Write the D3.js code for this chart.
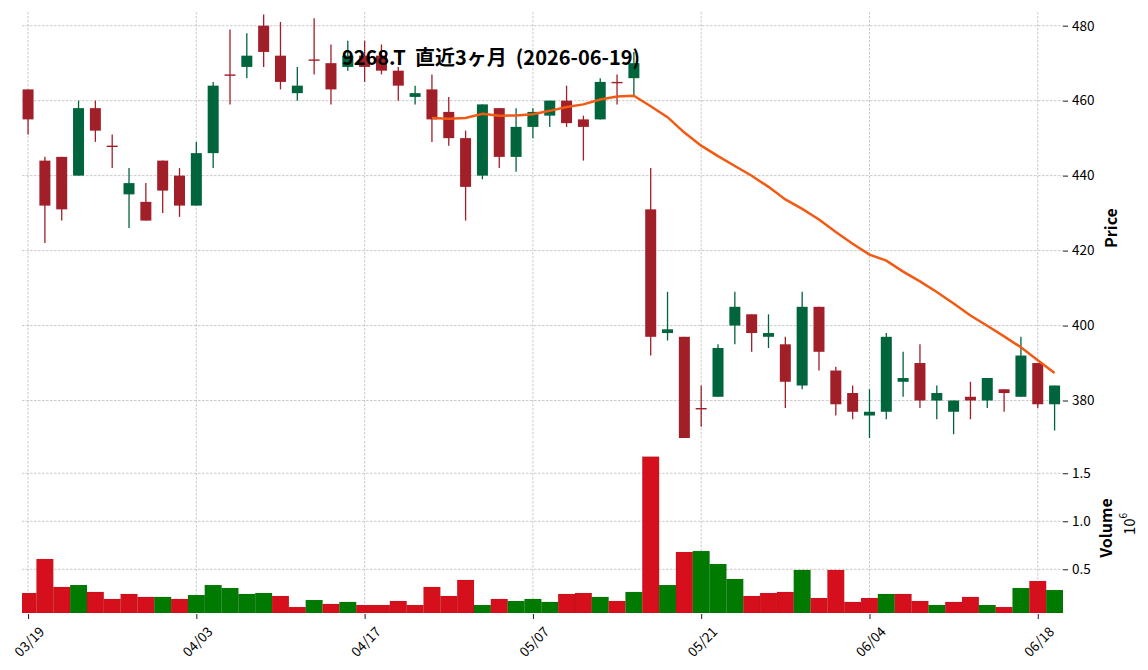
<!DOCTYPE html>
<html>
<head>
<meta charset="utf-8">
<script src="https://cdn.jsdelivr.net/npm/d3@7"></script>
<style>
  body { margin: 0; background: #fff; }
  svg { display: block; font-family: "Noto Sans CJK JP", "Noto Sans", sans-serif; }
  .grid line { stroke: #bdbdbd; stroke-width: 0.8; stroke-dasharray: 2.5,1.5; }
  .tick line { stroke: #000; stroke-width: 0.9; }
</style>
</head>
<body>
<div id="chart"></div>
<script>
// 9268.T daily candles, last 3 months
var dates = ["03/19","03/23","03/24","03/25","03/26","03/27","03/30","03/31","04/01","04/02",
             "04/03","04/06","04/07","04/08","04/09","04/10","04/13","04/14","04/15","04/16",
             "04/17","04/20","04/21","04/22","04/23","04/24","04/27","04/28","04/30","05/01",
             "05/07","05/08","05/11","05/12","05/13","05/14","05/15","05/18","05/19","05/20",
             "05/21","05/22","05/25","05/26","05/27","05/28","05/29","06/01","06/02","06/03",
             "06/04","06/05","06/08","06/09","06/10","06/11","06/12","06/15","06/16","06/17",
             "06/18","06/19"];
var opens  = [463,444,445,440,458,448,435,433,444,440, 432,446,467,469,480,472,462,471,470,469,
              472,472,468,461,463,457,450,440,458,445, 453,456,460,455,455,465,466,431,398,397,
              378,381,400,403,397,395,384,405,388,382, 376,377,385,390,380,377,381,380,383,381,
              390,379];
var highs  = [463,445,445,460,460,451,442,438,444,442, 449,465,479,478,483,481,469,482,475,476,
              476,475,469,464,467,461,452,459,458,458, 458,460,464,456,466,467,473,442,409,397,
              384,395,409,403,403,397,409,405,389,384, 383,398,393,395,384,380,385,386,383,397,
              390,384];
var lows   = [451,422,428,440,449,442,426,428,430,429, 432,442,459,466,469,463,460,467,459,468,
              465,467,460,459,449,448,428,439,442,441, 450,453,453,444,455,459,461,392,396,370,
              373,381,395,393,394,378,383,388,376,375, 370,375,381,378,375,371,375,378,377,381,
              378,372];
var closes = [455,432,431,458,452,448,438,428,436,432, 446,464,467,472,473,465,464,471,463,472,
              469,468,464,462,455,450,437,459,445,453, 457,460,454,453,465,465,470,397,399,370,
              378,394,405,398,398,385,405,393,379,377, 377,397,386,380,382,380,380,386,382,392,
              379,384];
var volumes = [253000,607000,316000,336000,264000,191000,243000,212000,212000,191000,
               232000,336000,305000,243000,253000,222000,107000,180000,139000,160000,
               128000,128000,170000,128000,316000,222000,389000,128000,191000,170000,
               191000,160000,243000,253000,212000,170000,264000,1673000,336000,680000,
               690000,555000,399000,222000,253000,264000,493000,201000,493000,160000,
               201000,243000,243000,170000,128000,160000,212000,128000,107000,305000,
               378000,284000];
var maWindow = 25;
var priceTicks = [380,400,420,440,460,480];
var volTicks = [500000,1000000,1500000];
var dateTickIdx = [0,10,20,30,40,50,60];

var width = 1148, height = 670;
var left = 22, right = 1063;
var upColor = "#00643c", downColor = "#a01f29";
var volUp = "#007a00", volDown = "#d50f1c";
var font = "'Noto Sans CJK JP', 'Noto Sans', sans-serif";

var svg = d3.select("#chart").append("svg")
  .attr("width", width)
  .attr("height", height);

var n = dates.length;
var x = d3.scaleLinear().domain([-0.36, n - 0.5]).range([left, right]);
var y = d3.scaleLinear().domain([370, 483.65]).range([438, 12]);
var yv = d3.scaleLinear().domain([45000, 1836000]).range([613, 441]);
var step = x(1) - x(0);

svg.append("defs").append("clipPath").attr("id", "volclip")
  .append("rect").attr("x", left).attr("y", 441).attr("width", right - left).attr("height", 172);

// grid lines
var grid = svg.append("g").attr("class", "grid");
grid.selectAll(".hp").data(priceTicks).enter().append("line")
  .attr("x1", left).attr("x2", right)
  .attr("y1", function(d) { return y(d); }).attr("y2", function(d) { return y(d); });
grid.selectAll(".hv").data(volTicks).enter().append("line")
  .attr("x1", left).attr("x2", right)
  .attr("y1", function(d) { return yv(d); }).attr("y2", function(d) { return yv(d); });
grid.selectAll(".vp").data(dateTickIdx).enter().append("line")
  .attr("x1", function(d) { return x(d); }).attr("x2", function(d) { return x(d); })
  .attr("y1", 12).attr("y2", 438);
grid.selectAll(".vv").data(dateTickIdx).enter().append("line")
  .attr("x1", function(d) { return x(d); }).attr("x2", function(d) { return x(d); })
  .attr("y1", 441).attr("y2", 613);

var idx = d3.range(n);

// candles
var candles = svg.append("g").selectAll("g").data(idx).enter().append("g");
candles.append("line")
  .attr("x1", function(i) { return x(i); }).attr("x2", function(i) { return x(i); })
  .attr("y1", function(i) { return y(highs[i]); }).attr("y2", function(i) { return y(lows[i]); })
  .attr("stroke", function(i) { return closes[i] > opens[i] ? upColor : downColor; })
  .attr("stroke-width", 1.3);
candles.append("rect")
  .attr("x", function(i) { return x(i) - 5.5; })
  .attr("width", 11)
  .attr("y", function(i) { return y(Math.max(opens[i], closes[i])); })
  .attr("height", function(i) { return Math.max(1.4, Math.abs(y(opens[i]) - y(closes[i]))); })
  .attr("fill", function(i) { return closes[i] > opens[i] ? upColor : downColor; });

// 25-day moving average of closes
var ma = idx.filter(function(i) { return i >= maWindow - 1; }).map(function(i) {
  return [i, d3.mean(closes.slice(i - maWindow + 1, i + 1))];
});
svg.append("path")
  .datum(ma)
  .attr("fill", "none")
  .attr("stroke", "#f25a14")
  .attr("stroke-width", 2.5)
  .attr("d", d3.line().x(function(d) { return x(d[0]); }).y(function(d) { return y(d[1]); }));

// volume bars
svg.append("g").attr("clip-path", "url(#volclip)")
  .selectAll("rect").data(idx).enter().append("rect")
  .attr("x", function(i) { return x(i) - step / 2; })
  .attr("width", step)
  .attr("y", function(i) { return yv(volumes[i]); })
  .attr("height", function(i) { return 613 - yv(volumes[i]); })
  .attr("fill", function(i) { return i > 0 && closes[i] > closes[i - 1] ? volUp : volDown; })
  .attr("stroke", "rgba(0,0,0,0.12)")
  .attr("stroke-width", 0.5);

// axes
var pAxis = svg.append("g")
  .attr("transform", "translate(" + right + ",0)")
  .call(d3.axisRight(y).tickValues(priceTicks).tickSize(5).tickPadding(4));
pAxis.select(".domain").remove();

var vAxis = svg.append("g")
  .attr("transform", "translate(" + right + ",0)")
  .call(d3.axisRight(yv).tickValues(volTicks).tickSize(5).tickPadding(4)
    .tickFormat(function(d) { return (d / 1e6).toFixed(1); }));
vAxis.select(".domain").remove();

var xAxis = svg.append("g")
  .attr("transform", "translate(0,614)")
  .call(d3.axisBottom(x).tickValues(dateTickIdx).tickSize(5)
    .tickFormat(function(i) { return dates[i]; }));
xAxis.select(".domain").remove();
xAxis.selectAll("text")
  .attr("y", 0).attr("dy", 0)
  .attr("text-anchor", "middle")
  .attr("dominant-baseline", "central")
  .attr("transform", "translate(0,27) rotate(-45)");

[pAxis, vAxis, xAxis].forEach(function(a) {
  a.attr("font-family", font).attr("font-size", 13.5);
  a.selectAll("text").attr("fill", "#000");
});

// labels
svg.append("text")
  .attr("transform", "translate(1110,228) rotate(-90)")
  .attr("text-anchor", "middle").attr("dominant-baseline", "central")
  .style("font-size", "16px").style("font-weight", "bold")
  .text("Price");
svg.append("text")
  .attr("transform", "translate(1105,528) rotate(-90)")
  .attr("text-anchor", "middle").attr("dominant-baseline", "central")
  .style("font-size", "16px").style("font-weight", "bold")
  .text("Volume");
var exp = svg.append("text")
  .attr("transform", "translate(1128,524) rotate(-90)")
  .attr("text-anchor", "middle").attr("dominant-baseline", "central")
  .style("font-size", "15px");
exp.append("tspan").text("10");
exp.append("tspan").attr("dy", -6).style("font-size", "10px").text("6");

svg.append("text")
  .attr("x", 491).attr("y", 56)
  .attr("text-anchor", "middle").attr("dominant-baseline", "central")
  .style("font-size", "20px").style("font-weight", "bold")
  .style("white-space", "pre")
  .text("9268.T  直近3ヶ月  (2026-06-19)");
</script>
</body>
</html>
